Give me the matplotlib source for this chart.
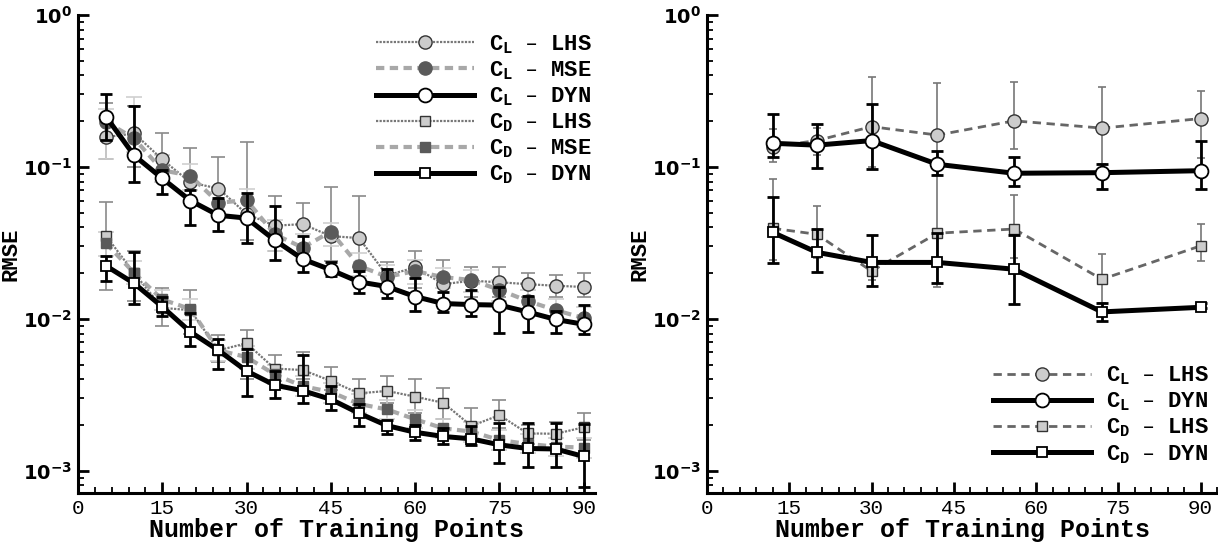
import numpy as np
import matplotlib
matplotlib.use('Agg')
from matplotlib import pyplot as plt
from matplotlib.ticker import LogLocator, LogFormatterSciNotation, MultipleLocator, NullFormatter

# ---- left panel: 5..90 training points
n_left = np.arange(5, 95, 5)

cl_lhs = np.array([0.157, 0.166, 0.112, 0.079, 0.072, 0.049, 0.041, 0.042, 0.035, 0.034,
                   0.0193, 0.0218, 0.0169, 0.0178, 0.0174, 0.0169, 0.0165, 0.0162])
cl_lhs_lo = np.array([0.112, 0.100, 0.082, 0.060, 0.050, 0.033, 0.028, 0.031, 0.024, 0.022,
                      0.0150, 0.0160, 0.0130, 0.0140, 0.0140, 0.0140, 0.0140, 0.0140])
cl_lhs_hi = np.array([0.262, 0.253, 0.166, 0.134, 0.116, 0.146, 0.064, 0.058, 0.074, 0.064,
                      0.0235, 0.028, 0.0244, 0.022, 0.022, 0.020, 0.0195, 0.0199])

cl_mse = np.array([0.198, 0.154, 0.095, 0.0875, 0.058, 0.0605, 0.036, 0.0294, 0.0375, 0.0223,
                   0.0189, 0.0206, 0.0188, 0.018, 0.0155, 0.0131, 0.0114, 0.0101])
cl_mse_lo = np.array([0.113, 0.125, 0.080, 0.070, 0.050, 0.045, 0.028, 0.024, 0.030, 0.019,
                      0.0160, 0.0170, 0.0160, 0.0150, 0.0130, 0.0115, 0.0100, 0.0088])
cl_mse_hi = np.array([0.239, 0.29, 0.12, 0.105, 0.068, 0.072, 0.045, 0.036, 0.043, 0.027,
                      0.0225, 0.0245, 0.0215, 0.0210, 0.0180, 0.0155, 0.0135, 0.0120])

cl_dyn = np.array([0.214, 0.119, 0.084, 0.060, 0.048, 0.046, 0.033, 0.0247, 0.021, 0.0175,
                   0.0163, 0.0140, 0.0126, 0.0124, 0.0123, 0.0111, 0.0099, 0.0092])
cl_dyn_lo = np.array([0.15, 0.079, 0.066, 0.0415, 0.038, 0.0314, 0.0244, 0.0202, 0.0191, 0.0147,
                      0.0137, 0.0113, 0.0111, 0.0104, 0.0081, 0.0082, 0.0081, 0.0079])
cl_dyn_hi = np.array([0.302, 0.253, 0.095, 0.0705, 0.062, 0.067, 0.0556, 0.0352, 0.0238, 0.0206,
                      0.0213, 0.0185, 0.0151, 0.0155, 0.0163, 0.0142, 0.0113, 0.0123])

cd_lhs = np.array([0.0351, 0.020, 0.0118, 0.0114, 0.0062, 0.0069, 0.0047, 0.0046, 0.0039, 0.00323,
                   0.00335, 0.00307, 0.0028, 0.00197, 0.00232, 0.00176, 0.00175, 0.00193])
cd_lhs_lo = np.array([0.0155, 0.013, 0.009, 0.0079, 0.0052, 0.0040, 0.0039, 0.0040, 0.0034, 0.0027,
                      0.0028, 0.0024, 0.0022, 0.0017, 0.0019, 0.0015, 0.0015, 0.0016])
cd_lhs_hi = np.array([0.059, 0.028, 0.016, 0.0155, 0.0078, 0.0085, 0.0058, 0.0060, 0.0048, 0.0040,
                      0.0042, 0.0040, 0.0035, 0.0026, 0.0029, 0.0020, 0.0021, 0.0024])

cd_mse = np.array([0.0314, 0.020, 0.0134, 0.0116, 0.0062, 0.0056, 0.0043, 0.0036, 0.0033, 0.00275,
                   0.00253, 0.00218, 0.0019, 0.00181, 0.00159, 0.0015, 0.00144, 0.00142])
cd_mse_lo = np.array([0.026, 0.017, 0.0115, 0.0098, 0.0053, 0.0047, 0.0037, 0.0031, 0.0028, 0.0024,
                      0.0022, 0.0019, 0.00165, 0.00155, 0.00137, 0.0013, 0.00125, 0.00122])
cd_mse_hi = np.array([0.037, 0.024, 0.0155, 0.0135, 0.0072, 0.0066, 0.0050, 0.0042, 0.0038, 0.0032,
                      0.0029, 0.0025, 0.0022, 0.0021, 0.00185, 0.00175, 0.00165, 0.00165])

cd_dyn = np.array([0.0223, 0.0171, 0.0120, 0.0082, 0.0062, 0.00453, 0.00366, 0.00336, 0.00295, 0.00239,
                   0.00198, 0.00179, 0.00168, 0.00162, 0.00148, 0.0014, 0.00139, 0.00124])
cd_dyn_lo = np.array([0.0177, 0.0126, 0.0105, 0.0066, 0.0047, 0.0031, 0.0030, 0.0028, 0.00251, 0.00197,
                      0.00174, 0.0016, 0.0015, 0.00148, 0.00113, 0.00106, 0.00105, 0.00078])
cd_dyn_hi = np.array([0.0259, 0.0277, 0.0140, 0.0109, 0.0074, 0.0063, 0.0045, 0.00578, 0.0036, 0.00275,
                      0.00215, 0.0020, 0.0019, 0.00197, 0.00205, 0.00205, 0.00205, 0.00202])

# ---- right panel
n_right = np.array([12, 20, 30, 42, 56, 72, 90])

r_cl_lhs = np.array([0.136, 0.149, 0.184, 0.162, 0.201, 0.180, 0.208])
r_cl_lhs_lo = np.array([0.108, 0.120, 0.100, 0.0885, 0.131, 0.105, 0.114])
r_cl_lhs_hi = np.array([0.177, 0.180, 0.393, 0.358, 0.363, 0.337, 0.316])

r_cl_dyn = np.array([0.143, 0.139, 0.149, 0.104, 0.0908, 0.0916, 0.0944])
r_cl_dyn_lo = np.array([0.116, 0.098, 0.097, 0.0885, 0.0752, 0.0711, 0.072])
r_cl_dyn_hi = np.array([0.223, 0.193, 0.26, 0.127, 0.117, 0.104, 0.147])

r_cd_lhs = np.array([0.0394, 0.036, 0.0206, 0.0366, 0.039, 0.0182, 0.0302])
r_cd_lhs_lo = np.array([0.0244, 0.025, 0.018, 0.0161, 0.025, 0.0127, 0.024])
r_cd_lhs_hi = np.array([0.0828, 0.0553, 0.024, 0.088, 0.0653, 0.0266, 0.0419])

r_cd_dyn = np.array([0.037, 0.0274, 0.0235, 0.0235, 0.0212, 0.0111, 0.0119])
r_cd_dyn_lo = np.array([0.0232, 0.0204, 0.0165, 0.0171, 0.0125, 0.0097, 0.0117])
r_cd_dyn_hi = np.array([0.0637, 0.0388, 0.0356, 0.0366, 0.0356, 0.0128, 0.0128])

labels_left = ['C$_\\mathdefault{L}$ \u2013 LHS', 'C$_\\mathdefault{L}$ \u2013 MSE', 'C$_\\mathdefault{L}$ \u2013 DYN',
               'C$_\\mathdefault{D}$ \u2013 LHS', 'C$_\\mathdefault{D}$ \u2013 MSE', 'C$_\\mathdefault{D}$ \u2013 DYN']
labels_right = ['C$_\\mathdefault{L}$ \u2013 LHS', 'C$_\\mathdefault{L}$ \u2013 DYN',
                'C$_\\mathdefault{D}$ \u2013 LHS', 'C$_\\mathdefault{D}$ \u2013 DYN']

mono = 'Liberation Mono'


def series(ax, x, y, lo, hi, line_kw, err_kw):
    ax.errorbar(x, y, yerr=[y - lo, hi - y], fmt='none', **err_kw)
    ln, = ax.plot(x, y, **line_kw)
    return ln


def style_axis(ax, xmax):
    ax.set_yscale('log')
    ax.set_ylim(7.1e-4, 1.0)
    ax.set_xlim(0, xmax)
    ax.spines['top'].set_visible(False)
    ax.spines['right'].set_visible(False)
    ax.spines['left'].set_linewidth(2.2)
    ax.spines['bottom'].set_linewidth(2.2)
    ax.xaxis.set_major_locator(MultipleLocator(15))
    ax.xaxis.set_minor_locator(MultipleLocator(3))
    ax.yaxis.set_major_locator(LogLocator(base=10, numticks=10))
    ax.yaxis.set_minor_locator(LogLocator(base=10, subs=np.arange(2, 10), numticks=10))
    ax.yaxis.set_major_formatter(LogFormatterSciNotation())
    ax.yaxis.set_minor_formatter(NullFormatter())
    ax.tick_params(which='major', direction='in', length=8, width=2, pad=4)
    ax.tick_params(which='minor', direction='in', length=4, width=1.3)
    for t in ax.get_xticklabels():
        t.set_fontfamily(mono)
        t.set_fontsize(15)
    for t in ax.get_yticklabels():
        t.set_fontfamily('DejaVu Sans')
        t.set_fontweight('bold')
        t.set_fontsize(14)
    ax.set_xlabel('Number of Training Points', fontfamily=mono, fontweight='bold', fontsize=18, labelpad=0)
    ax.set_ylabel('RMSE', fontfamily=mono, fontweight='bold', fontsize=16, labelpad=1)


fig = plt.figure(figsize=(12.18, 5.45), dpi=100)
ax1 = fig.add_axes([0.064, 0.0949, 0.4245, 0.8776])
ax2 = fig.add_axes([0.5805, 0.0949, 0.4187, 0.8776])

lhs_err = dict(ecolor='#8a8a8a', elinewidth=1.2, capsize=5, capthick=1.2, zorder=2)
mse_err = dict(ecolor='#cfcfcf', elinewidth=1.2, capsize=6, capthick=1.2, zorder=2)
dyn_err = dict(ecolor='black', elinewidth=2.0, capsize=4, capthick=2.0, zorder=4)

lhs_c = dict(color='#777777', lw=1.6, ls=(0, (1, 0.6)), marker='o', ms=9.5, mfc='#cccccc', mec='#333333', mew=1.0, zorder=3)
mse_c = dict(color='#a8a8a8', lw=3.0, ls=(0, (2, 1.3)), marker='o', ms=9.5, mfc='#5a5a5a', mec='#5a5a5a', mew=1.0, zorder=3)
dyn_c = dict(color='black', lw=3.6, ls='-', marker='o', ms=10, mfc='white', mec='black', mew=1.3, zorder=5)
lhs_s = dict(lhs_c, marker='s', ms=7.5)
mse_s = dict(mse_c, marker='s', ms=7.5)
dyn_s = dict(dyn_c, marker='s', ms=7.5)

h = []
h.append(series(ax1, n_left, cl_lhs, cl_lhs_lo, cl_lhs_hi, lhs_c, lhs_err))
h.append(series(ax1, n_left, cl_mse, cl_mse_lo, cl_mse_hi, mse_c, mse_err))
h.append(series(ax1, n_left, cl_dyn, cl_dyn_lo, cl_dyn_hi, dyn_c, dyn_err))
h.append(series(ax1, n_left, cd_lhs, cd_lhs_lo, cd_lhs_hi, lhs_s, lhs_err))
h.append(series(ax1, n_left, cd_mse, cd_mse_lo, cd_mse_hi, mse_s, mse_err))
h.append(series(ax1, n_left, cd_dyn, cd_dyn_lo, cd_dyn_hi, dyn_s, dyn_err))

rlhs_err = dict(ecolor='#777777', elinewidth=1.2, capsize=3, capthick=1.2, zorder=2)
rlhs_c = dict(color='#666666', lw=2.0, ls=(0, (3, 2)), marker='o', ms=9.5, mfc='#cccccc', mec='#333333', mew=1.0, zorder=3)
rlhs_s = dict(rlhs_c, marker='s', ms=7.5)

h2 = []
h2.append(series(ax2, n_right, r_cl_lhs, r_cl_lhs_lo, r_cl_lhs_hi, rlhs_c, rlhs_err))
h2.append(series(ax2, n_right, r_cl_dyn, r_cl_dyn_lo, r_cl_dyn_hi, dyn_c, dyn_err))
h2.append(series(ax2, n_right, r_cd_lhs, r_cd_lhs_lo, r_cd_lhs_hi, rlhs_s, rlhs_err))
h2.append(series(ax2, n_right, r_cd_dyn, r_cd_dyn_lo, r_cd_dyn_hi, dyn_s, dyn_err))

style_axis(ax1, 92)
style_axis(ax2, 93)

leg_font = dict(family=mono, weight='bold', size=16)
ax1.legend(h, labels_left, loc='upper right', bbox_to_anchor=(1.02, 0.99), frameon=False, prop=leg_font,
           handlelength=4.4, handletextpad=0.7, labelspacing=0.16, borderaxespad=0.2)
ax2.legend(h2, labels_right, loc='lower right', bbox_to_anchor=(1.01, 0.03), frameon=False, prop=leg_font,
           handlelength=4.4, handletextpad=0.7, labelspacing=0.16, borderaxespad=0.2)

fig.savefig('out.png', dpi=100)
